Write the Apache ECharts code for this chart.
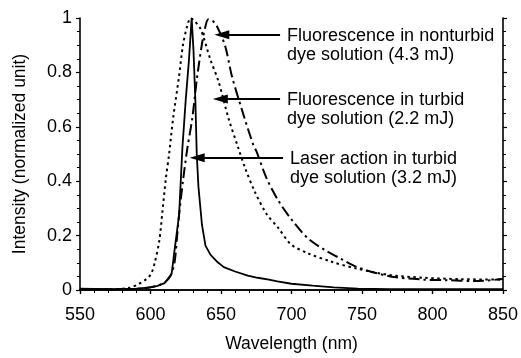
<!DOCTYPE html>
<html><head><meta charset="utf-8">
<script src="https://cdn.jsdelivr.net/npm/echarts@6/dist/echarts.min.js"></script>
<style>html,body{margin:0;padding:0;background:#fff}#c{width:521px;height:358px}</style>
</head><body><div id="c"></div>
<script>
// Laser action in turbid dye solution (3.2 mJ) — solid
var laserX = [550,570,590,600,605,610,615,616.7,620.3,622.6,625,627.3,629.2,630.5,631.8,632.8,634,636.5,639,642.5,647,652,660,669,676,684,690,700,715,730,747,770,800,850];
var laserY = [0.005,0.003,0.005,0.01,0.015,0.025,0.06,0.132,0.277,0.52,0.7,0.847,1.0,0.88,0.7,0.5,0.38,0.24,0.163,0.13,0.105,0.084,0.068,0.053,0.045,0.038,0.032,0.023,0.016,0.01,0.005,0.003,0.003,0.003];
// Fluorescence in turbid dye solution (2.2 mJ) — dotted
var turbidX = [550,570,585,592,597,600.4,603,606.2,608.5,610.9,613.2,616,620.3,623,626,628.5,631,635.5,642.5,648.4,655.4,662.4,667,674.1,682.3,690.5,699.6,711.6,727.8,746.7,770,794,820,850];
var turbidY = [0.003,0.003,0.008,0.023,0.04,0.059,0.1,0.18,0.29,0.41,0.5,0.63,0.787,0.9,0.97,1.0,0.99,0.96,0.847,0.764,0.63,0.52,0.45,0.36,0.28,0.229,0.168,0.135,0.105,0.078,0.055,0.045,0.04,0.038];
// Fluorescence in nonturbid dye solution (4.3 mJ) — dash-dot
var nonturbidX = [550,580,595,600,606,610,614,617,619,620.3,623,626.1,629.6,633,636.6,639,641,644,647.2,653,657.7,664.7,673,675.3,682.3,690.5,699.9,711.6,723.3,735,746.7,770,794,810,830,850];
var nonturbidY = [0.003,0.003,0.006,0.01,0.018,0.028,0.05,0.1,0.205,0.277,0.4,0.52,0.63,0.78,0.908,0.97,0.995,0.99,0.969,0.896,0.787,0.665,0.532,0.508,0.411,0.33,0.26,0.19,0.148,0.115,0.084,0.05,0.038,0.036,0.033,0.04];
// tick labels
var xTicks = [550,600,650,700,750,800,850];
var yTicks = [0,0.2,0.4,0.6,0.8,1];
// annotations: arrow tail wavelength, arrow tip wavelength, intensity, text
var noteTailX = [691.9, 691.9, 694];
var noteTipX = [650.6, 649.5, 633.1];
var noteY = [0.938, 0.702, 0.486];
var noteText = ['Fluorescence in nonturbid\ndye solution (4.3 mJ)','Fluorescence in turbid\ndye solution (2.2 mJ)','Laser action in turbid\ndye solution (3.2 mJ)'];

function pairs(xs, ys){ return xs.map(function(x,i){return [x, ys[i]];}); }
var FONT = '"Liberation Sans", Arial, Helvetica, sans-serif';
var black = '#000';

var chart = echarts.init(document.getElementById('c'), null, {renderer:'canvas'});
var arrowData = noteY.map(function(y,i){
  return [{coord:[noteTailX[i], y]},{coord:[noteTipX[i], y]}];
});
var option = {
  animation:false,
  backgroundColor:'#fff',
  grid:{left:80, right:14, top:18, bottom:65},
  xAxis:[{
    type:'value', min:xTicks[0], max:xTicks[xTicks.length-1], interval:50,
    name:'Wavelength (nm)', nameLocation:'middle', nameGap:45,
    nameTextStyle:{fontFamily:FONT, fontSize:17.5, color:black},
    axisLine:{lineStyle:{color:black, width:1.6}},
    axisTick:{inside:false, length:4, lineStyle:{color:black, width:1.2}},
    minorTick:{show:true, splitNumber:5, length:3, lineStyle:{color:black, width:1}},
    axisLabel:{fontFamily:FONT, fontSize:18, color:black, margin:16},
    splitLine:{show:false}
  },{
    type:'value', position:'top', min:xTicks[0], max:xTicks[xTicks.length-1], interval:50,
    axisLine:{lineStyle:{color:black, width:1.6}},
    axisTick:{inside:true, length:4, lineStyle:{color:black, width:1.2}},
    minorTick:{show:true, splitNumber:5, length:3, lineStyle:{color:black, width:1}},
    axisLabel:{show:false}, splitLine:{show:false}
  }],
  yAxis:[{
    type:'value', min:yTicks[0], max:yTicks[yTicks.length-1], interval:0.2,
    name:'Intensity (normalized unit)', nameLocation:'middle', nameGap:51,
    nameTextStyle:{fontFamily:FONT, fontSize:17.5, color:black},
    axisLine:{show:true, lineStyle:{color:black, width:1.6}},
    axisTick:{show:true, inside:false, length:4, lineStyle:{color:black, width:1.2}},
    minorTick:{show:true, splitNumber:4, length:3, lineStyle:{color:black, width:1}},
    axisLabel:{fontFamily:FONT, fontSize:18, color:black, margin:8,
      formatter:function(v){return String(Math.round(v*10)/10);}},
    splitLine:{show:false}
  },{
    type:'value', position:'right', min:yTicks[0], max:yTicks[yTicks.length-1], interval:0.2,
    axisLine:{show:true, lineStyle:{color:black, width:1.6}},
    axisTick:{show:true, inside:false, length:4, lineStyle:{color:black, width:1.2}},
    minorTick:{show:true, splitNumber:4, length:3, lineStyle:{color:black, width:1}},
    axisLabel:{show:false}, splitLine:{show:false}
  }],
  series:[
    {type:'line', name:'Fluorescence in turbid dye solution (2.2 mJ)', data:pairs(turbidX, turbidY),
     showSymbol:false, smooth:0.3, lineStyle:{color:black, width:2, type:[2.5,3.5]}},
    {type:'line', name:'Fluorescence in nonturbid dye solution (4.3 mJ)', data:pairs(nonturbidX, nonturbidY),
     showSymbol:false, smooth:0.3, lineStyle:{color:black, width:2, type:[11,4,2.5,4]}},
    {type:'line', name:'Laser action in turbid dye solution (3.2 mJ)', data:pairs(laserX, laserY),
     showSymbol:false, smooth:false, lineStyle:{color:black, width:1.8},
     markLine:{silent:true, animation:false, symbol:['none','triangle'], symbolSize:[9,15],
       label:{show:false}, lineStyle:{color:black, width:2, type:'solid'},
       emphasis:{disabled:true},
       data:arrowData}}
  ]
};
chart.setOption(option);
var g = [];
noteText.forEach(function(t,i){
  var p = chart.convertToPixel({gridIndex:0},[noteTailX[i], noteY[i]]);
  g.push({type:'text', left:p[0]+7, top:p[1]-9, style:{text:t, fontFamily:FONT, fontSize:18, lineHeight:19.5, fill:black}});
});
chart.setOption({graphic:g});
</script></body></html>
